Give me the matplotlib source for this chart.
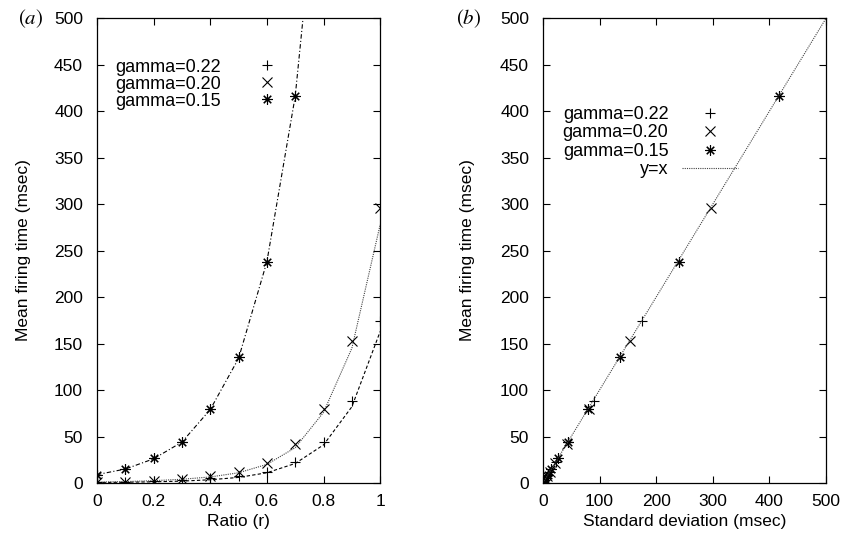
import matplotlib
matplotlib.use("Agg")
import matplotlib.pyplot as plt

plt.rcParams['font.family'] = ['Liberation Sans', 'DejaVu Sans']
plt.rcParams['mathtext.fontset'] = 'stix'

# ---- data ----
ratio = [0.0, 0.1, 0.2, 0.3, 0.4, 0.5, 0.6, 0.7, 0.8, 0.9, 1.0]
ratio_15 = [0.0, 0.1, 0.2, 0.3, 0.4, 0.5, 0.6, 0.7]

mean_22 = [1, 1, 2, 3, 5, 7, 12, 23, 44, 88, 174]
mean_20 = [1, 1.5, 2.5, 4, 7, 12, 22, 42, 80, 153, 296]
mean_15 = [9, 15, 26.5, 44, 80, 135, 238, 416]

std_22 = [1, 1, 2, 3, 5, 7, 12, 23, 44, 90, 175]
std_20 = [1, 1.5, 2.5, 4, 7, 12, 22, 42, 81, 154, 297]
std_15 = [9, 15, 26, 44, 80, 136, 240, 416]

# theoretical curves
theory_r = [0.0, 0.1, 0.2, 0.3, 0.4, 0.5, 0.6, 0.7, 0.8, 0.9, 1.0]
theory_22 = [0.5, 0.8, 1.3, 2, 3.5, 6, 11, 21, 41, 82, 163]
theory_20 = [1, 1.5, 2.5, 4, 6.5, 11, 20, 38, 76, 145, 278]
theory_r_15 = [0.0, 0.1, 0.2, 0.3, 0.4, 0.5, 0.6, 0.7, 0.8]
theory_15 = [9, 15, 26, 44, 79, 134, 238, 416, 720]

diag = [0, 500]

labels = ['gamma=0.22', 'gamma=0.20', 'gamma=0.15', 'y=x']

FS = 12.5
LFS = 13
star = (8, 2, 0)

fig = plt.figure(figsize=(8.43, 5.35), dpi=100)
axL = fig.add_axes([0.115, 0.0972, 0.336, 0.869])
axR = fig.add_axes([0.644, 0.0972, 0.336, 0.869])

mk = dict(color='black', markersize=7.5, markeredgewidth=0.8, linestyle='none')

# ---- left panel ----
axL.plot(theory_r, theory_22, color='black', lw=0.8, ls=(0, (3, 2)))
axL.plot(theory_r, theory_20, color='#444444', lw=0.8, ls=(0, (1, 1)))
axL.plot(theory_r_15, theory_15, color='black', lw=0.8, ls=(0, (4, 2, 1, 2)))
h1, = axL.plot(ratio, mean_22, marker='+', **mk)
h2, = axL.plot(ratio, mean_20, marker='x', **mk)
h3, = axL.plot(ratio_15, mean_15, marker=star, **mk)
axL.set_xlim(0, 1)
axL.set_ylim(0, 500)
axL.set_xticks([0, 0.2, 0.4, 0.6, 0.8, 1.0])
axL.set_xticklabels(['0', '0.2', '0.4', '0.6', '0.8', '1'])
axL.set_yticks(range(0, 501, 50))
axL.set_xlabel('Ratio (r)', fontsize=FS)
axL.set_ylabel('Mean firing time (msec)', fontsize=FS)
legL = axL.legend([h1, h2, h3], labels[:3], loc='upper left',
                  bbox_to_anchor=(0.064, 0.913), frameon=False, markerfirst=False,
                  fontsize=LFS, handlelength=3.1, handletextpad=1.0,
                  labelspacing=0.0, borderpad=0, borderaxespad=0)

# ---- right panel ----
g1, = axR.plot(std_22, mean_22, marker='+', **mk)
g2, = axR.plot(std_20, mean_20, marker='x', **mk)
g3, = axR.plot(std_15, mean_15, marker=star, **mk)
g4, = axR.plot(diag, diag, color='#444444', lw=0.8, ls=(0, (1, 1)))
axR.set_xlim(0, 500)
axR.set_ylim(0, 500)
axR.set_xticks(range(0, 501, 100))
axR.set_yticks(range(0, 501, 50))
axR.set_xlabel('Standard deviation (msec)', fontsize=FS)
axR.set_ylabel('Mean firing time (msec)', fontsize=FS)
legR = axR.legend([g1, g2, g3, g4], labels, loc='upper left',
                  bbox_to_anchor=(0.07, 0.811), frameon=False, markerfirst=False,
                  fontsize=LFS, handlelength=3.1, handletextpad=0.75,
                  labelspacing=0.08, borderpad=0, borderaxespad=0)

for ax, lx in ((axL, -0.232), (axR, -0.240)):
    ax.tick_params(direction='in', length=5, width=0.8, top=True, right=True,
                   labelsize=FS, colors='black')
    ax.tick_params(axis='y', pad=10)
    ax.tick_params(axis='x', pad=8)
    for s in ax.spines.values():
        s.set_linewidth(0.9)
    ax.yaxis.set_label_coords(lx, 0.5)
    ax.xaxis.set_label_coords(0.5, -0.066)

fig.text(18 / 843, 1 - 19 / 535, r'$(a)$', fontsize=15, ha='left', va='center')
fig.text(456 / 843, 1 - 19 / 535, r'$(b)$', fontsize=15, ha='left', va='center')

fig.savefig('out.png', dpi=100)
